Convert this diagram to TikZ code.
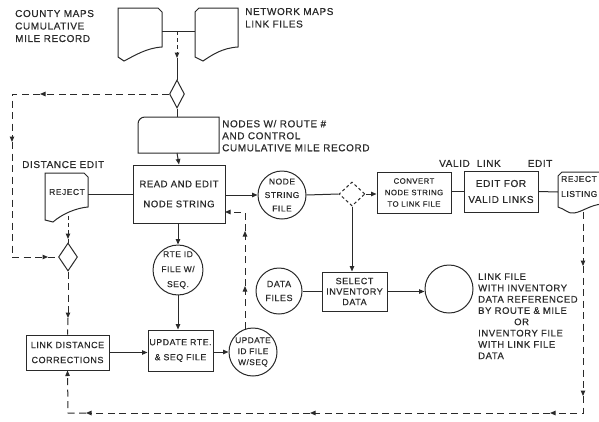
\documentclass[tikz,border=0pt]{standalone}
\usepackage{fontspec}
\setmainfont{Liberation Sans}[LetterSpace=6,FakeBold=0.5]
\usetikzlibrary{arrows.meta,shapes.geometric}
\definecolor{ink}{HTML}{2A2A2A}
\begin{document}
\begin{tikzpicture}[x=1pt,y=-1pt,
  ln/.style={line width=1pt, draw=ink},
  dsh/.style={ln, dash pattern=on 7pt off 4.5pt},
  arr/.style={-{Triangle[length=5.5pt,width=4.5pt]}},
  lbl/.style={inner sep=0, align=left, text=ink, font=\fontsize{10}{12.5}\selectfont},
  boxn/.style={ln, rectangle, inner sep=0, align=center, text=ink},
  circn/.style={ln, circle, inner sep=0, align=center, text=ink, minimum size=48},
  dmd/.style={ln, diamond, inner sep=0},
]
\useasboundingbox (0,0) rectangle (599,421);
\clip (0,0) rectangle (599,421);

% ---------- labels ----------
\node[lbl, anchor=north west] (county) at (15,9.8) {COUNTY MAPS\\CUMULATIVE\\MILE RECORD};
\node[lbl, anchor=north west] (network) at (245,7.8) {NETWORK MAPS\\LINK FILES};
\node[lbl, anchor=north west, font=\fontsize{10}{12}\selectfont] (nodeslbl) at (222,119.8) {NODES W/ ROUTE \#\\AND CONTROL\\CUMULATIVE MILE RECORD};
\node[lbl, anchor=north west] (distlbl) at (22,160.8) {DISTANCE EDIT};
\node[lbl, anchor=north west] (validlbl) at (439,159.8) {VALID\hspace{7pt}LINK\hspace{27pt}EDIT};
\node[lbl, anchor=north west, font=\fontsize{9.5}{11.3}\selectfont] (lflbl) at (478,273.2)
  {LINK FILE\\WITH INVENTORY\\DATA REFERENCED\\BY ROUTE \& MILE\\\hspace*{36pt}OR\\INVENTORY FILE\\WITH LINK FILE\\DATA};

% ---------- source cards ----------
\draw[ln] (118,8) -- (118,57) -- (124,61) .. controls (134,56) and (146,48) .. (162,47) -- (162,12) -- (158,8) -- cycle;
\draw[ln] (199,8) -- (238,8) -- (238,47) .. controls (222,48) and (212,55) .. (203,61) -- (195,57) -- (195,12) -- cycle;
\coordinate (cardL) at (162,31);
\coordinate (cardR) at (195,31);
\coordinate (junc) at (177,31);
\coordinate (j2) at (177,58);

% ---------- nodes card ----------
\draw[ln] (138,124) -- (138,153) -- (219,153) -- (219,117) -- (145,117) .. controls (141,117) and (138,120) .. (138,124) -- cycle;
\coordinate (nodesN) at (177,117);
\coordinate (nodesS) at (177,153);

% ---------- reject (distance edit) ----------
\draw[ln] (45,173) -- (84,173) -- (88,177) -- (88,207) .. controls (76,208) and (62,214) .. (53,222) -- (45,220) -- cycle;
\node[inner sep=0, text=ink, font=\fontsize{8.5}{10}\selectfont] (rejtxt) at (67,192) {REJECT};
\coordinate (rejE) at (88,194);
\coordinate (rejS) at (68,216);

% ---------- reject listing ----------
\draw[ln] (602,172) -- (562,172) -- (558,176) -- (558,207) .. controls (565,209) and (568,214) .. (574,213) .. controls (582,212) and (590,205) .. (602,204);
\node[lbl, anchor=north west, font=\fontsize{8.5}{15}\selectfont] (rltxt) at (561,175.8) {REJECT\\LISTING};
\coordinate (rlW) at (558,192);
\coordinate (rlS) at (583,212);

% ---------- boxes ----------
\node[boxn, minimum width=92, minimum height=58, font=\fontsize{9.5}{20}\selectfont] (read) at (179,194) {READ AND EDIT\\NODE STRING};
\node[boxn, minimum width=74, minimum height=41, font=\fontsize{7.8}{11.5}\selectfont] (conv) at (414,192.5) {CONVERT\\NODE STRING\\TO LINK FILE};
\node[boxn, minimum width=74, minimum height=41, font=\fontsize{10}{16}\selectfont] (edit) at (501,191.5) {EDIT FOR\\VALID LINKS};
\node[boxn, minimum width=65, minimum height=39, font=\fontsize{9}{10.5}\selectfont] (sel) at (354.5,291.5) {SELECT\\INVENTORY\\DATA};
\node[boxn, minimum width=83, minimum height=35, font=\fontsize{9}{15}\selectfont] (ldist) at (67.5,352.5) {LINK DISTANCE\\CORRECTIONS};
\node[boxn, minimum width=65, minimum height=41, font=\fontsize{8.8}{15}\selectfont] (updrte) at (180.5,350.5) {UPDATE RTE.\\\& SEQ FILE};

% ---------- circles ----------
\node[circn, font=\fontsize{8.5}{13.5}\selectfont] (nstr) at (282,195) {NODE\\STRING\\FILE};
\node[circn, font=\fontsize{8.5}{15}\selectfont] (rte) at (178,270) {RTE ID\\FILE W/\\SEQ.};
\node[circn, font=\fontsize{8.3}{11}\selectfont] (updid) at (253,352) {UPDATE\\ID FILE\\W/SEQ};
\node[circn, minimum size=46, font=\fontsize{9}{14}\selectfont] (data) at (279,291) {DATA\\FILES};
\node[circn] (lf) at (449,289) {};

% ---------- diamonds ----------
\node[dmd, minimum width=15, minimum height=28] (d1) at (177,94) {};
\node[dmd, minimum width=19, minimum height=28] (d2) at (68,257) {};
\node[dmd, dash pattern=on 3pt off 2.5pt, minimum width=26, minimum height=24] (d3) at (352,194) {};

% ---------- solid connectors ----------
\draw[ln] (cardL) -- (cardR);
\draw[dsh, dash pattern=on 4pt off 3pt, arr] (junc) -- (j2);
\draw[ln] (j2) -- (d1.north);
\draw[ln] (d1.south) -- (nodesN);
\draw[ln, arr] (nodesS) -- (read.north);
\draw[ln] (rejE) -- (read.west |- rejE);
\draw[ln, arr] (read.east |- nstr.west) -- (nstr.west);
\draw[ln] (nstr.east) -- (d3.west);
\draw[ln, arr] (d3.east) -- (conv.west |- d3.east);
\draw[ln] (conv.east |- edit.west) -- (edit.west);
\draw[ln] (edit.east) -- (rlW);
\draw[ln, arr] (d3.south) -- (sel.north -| d3.south);
\draw[ln] (data.east |- sel.west) -- (sel.west);
\draw[ln, arr] (sel.east) -- (lf.west |- sel.east);
\draw[ln, arr] (read.south -| rte.north) -- (rte.north);
\draw[ln, arr] (rte.south) -- (updrte.north -| rte.south);
\draw[ln, arr] (ldist.east) -- (updrte.west |- ldist.east);
\draw[ln, arr] (updrte.east |- updid.west) -- (updid.west);

% ---------- dashed connectors ----------
\coordinate (a1) at (40,94);
\coordinate (k1) at (12,94);
\coordinate (a2) at (12,142);
\coordinate (k2) at (12,257);
\coordinate (a3) at (48,257);
\draw[dsh, arr] (d1.west) -- (a1);
\draw[dsh, arr] (a1) -- (k1) -- (a2);
\draw[dsh, arr] (a2) -- (k2) -- (a3);
\draw[dsh] (a3) -- (d2.west);

\coordinate (a4) at (68,239);
\draw[dsh, dash pattern=on 4pt off 3pt, arr] (rejS) -- (a4);
\draw[ln] (a4) -- (d2.north);
\coordinate (a5) at (68,318);
\draw[dsh, arr] (d2.south) -- (a5);
\draw[dsh] (a5) -- (ldist.north);

\coordinate (a6) at (583,266);
\coordinate (a7) at (583,396);
\coordinate (k3) at (583,413);
\coordinate (a8) at (550,413);
\coordinate (a9) at (310,413);
\coordinate (a10) at (86,413);
\coordinate (k4) at (68,413);
\draw[dsh, arr] (rlS) -- (a6);
\draw[dsh, arr] (a6) -- (a7);
\draw[dsh, arr] (a7) -- (k3) -- (a8);
\draw[dsh, arr] (a8) -- (a9);
\draw[dsh, arr] (a9) -- (a10);
\draw[dsh, arr] (a10) -- (k4) -- (ldist.south);

\coordinate (u1) at (245,329);
\coordinate (a11) at (245,286);
\coordinate (a12) at (245,231);
\coordinate (k5) at (245,212);
\coordinate (r1) at (225,212);
\draw[dsh, arr] (u1) -- (a11);
\draw[dsh, arr] (a11) -- (a12);
\draw[dsh, arr] (a12) -- (k5) -- (r1);
\end{tikzpicture}
\end{document}
